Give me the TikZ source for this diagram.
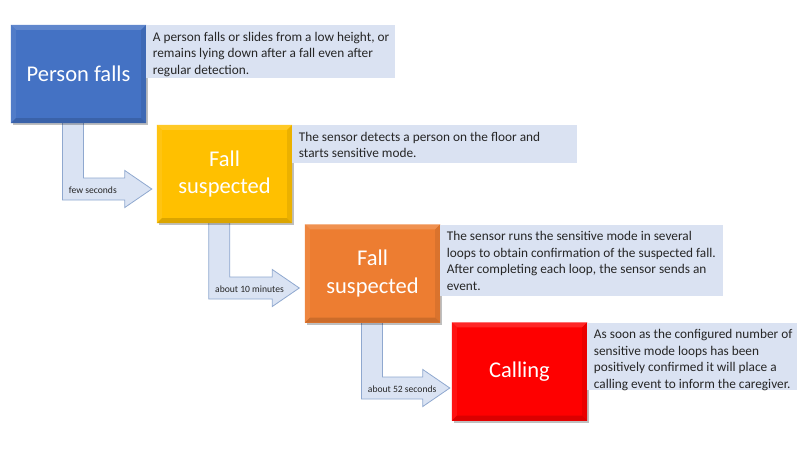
\documentclass[tikz,border=0pt]{standalone}
\usepackage{fontspec}
\setmainfont{Carlito}
\usetikzlibrary{shadows,calc}
\pgfdeclarelayer{bg}
\pgfsetlayers{bg,main}
\definecolor{pblue}{HTML}{4472C4}
\definecolor{pyellow}{HTML}{FFC000}
\definecolor{porange}{HTML}{ED7D31}
\definecolor{pred}{HTML}{FE0000}
\definecolor{descfill}{HTML}{DAE2F2}
\definecolor{arrfill}{HTML}{DAE3F3}
\definecolor{arrdraw}{HTML}{8FA8CF}
\definecolor{desctext}{HTML}{262626}
\tikzset{
 stepbox/.style={fill=#1, minimum width=135pt, minimum height=98pt, inner sep=0pt, text=white, align=center, font=\fontsize{22.5}{27.5}\selectfont, drop shadow={shadow xshift=2pt, shadow yshift=-2pt, opacity=.25, fill=black}},
 descbox/.style={fill=descfill, anchor=north west, inner sep=0pt},
 desctxt/.style={anchor=north west, inner sep=0pt, align=left, text=desctext, font=\fontsize{13.3}{16.5}\selectfont},
 bent/.style={fill=arrfill, draw=arrdraw, line width=0.8pt, line join=miter},
 lbl/.style={anchor=west, inner sep=0pt, font=\fontsize{9.6}{11}\selectfont, text=desctext},
}
\newcommand\bentarrow[7]{%
 \path[bent] let \p1=(#1.south west), \p2=(#2.west) in
 (\x1+#3pt, \y1+3pt) -- (\x1+#3pt+21pt, \y1+3pt) -- (\x1+#3pt+21pt, \y2-#4pt+11pt)
 -- (\x2-#5pt-27pt, \y2-#4pt+11pt) -- (\x2-#5pt-27pt, \y2-#4pt+18.5pt) -- (\x2-#5pt, \y2-#4pt)
 -- (\x2-#5pt-27pt, \y2-#4pt-18.5pt) -- (\x2-#5pt-27pt, \y2-#4pt-11pt) -- (\x1+#3pt, \y2-#4pt-11pt) -- cycle
 node[lbl] (#7) at (\x1+#3pt+6pt, \y2-#4pt-1pt) {#6};
}
\begin{document}
\begin{tikzpicture}[x=1pt,y=-1pt]
\useasboundingbox (0,0) rectangle (800,450);
\node[stepbox=pblue] (p1) at (78.5,74) {Person falls};
\node[stepbox=pyellow] (p2) at (224.5,174) {Fall\\suspected};
\node[stepbox=porange] (p3) at (372.5,273.5) {Fall\\suspected};
\node[stepbox=pred] (p4) at (519.5,371.5) {Calling};
\foreach \n/\c in {p1/pblue,p2/pyellow,p3/porange,p4/pred}{
 \fill[\c!85!white] (\n.north west) -- (\n.north east) -- ([shift={(-5pt,-5pt)}]\n.north east) -- ([shift={(5pt,-5pt)}]\n.north west) -- cycle;
 \fill[\c!93!white] (\n.north west) -- ([shift={(5pt,-5pt)}]\n.north west) -- ([shift={(5pt,5pt)}]\n.south west) -- (\n.south west) -- cycle;
 \fill[\c!92!black] (\n.north east) -- ([shift={(-5pt,-5pt)}]\n.north east) -- ([shift={(-5pt,5pt)}]\n.south east) -- (\n.south east) -- cycle;
 \fill[\c!86!black] (\n.south west) -- ([shift={(5pt,5pt)}]\n.south west) -- ([shift={(-5pt,5pt)}]\n.south east) -- (\n.south east) -- cycle;
}
\node[descbox, minimum width=249pt, minimum height=53pt] (t1) at (p1.north east) {};
\node[desctxt] (t1txt) at ([shift={(6.5pt,-7pt)}]t1.north west) {A person falls or slides from a low height, or\\remains lying down after a fall even after\\regular detection.};
\node[descbox, minimum width=285pt, minimum height=38pt] (t2) at (p2.north east) {};
\node[desctxt] (t2txt) at ([shift={(6.5pt,-7pt)}]t2.north west) {The sensor detects a person on the floor and\\starts sensitive mode.};
\node[descbox, minimum width=283pt, minimum height=71pt] (t3) at (p3.north east) {};
\node[desctxt] (t3txt) at ([shift={(6.5pt,-7pt)}]t3.north west) {The sensor runs the sensitive mode in several\\loops to obtain confirmation of the suspected fall.\\After completing each loop, the sensor sends an\\event.};
\node[descbox, minimum width=210pt, minimum height=67pt] (t4) at (p4.north east) {};
\node[desctxt] (t4txt) at ([shift={(6.5pt,-7pt)}]t4.north west) {As soon as the configured number of\\sensitive mode loops has been\\positively confirmed it will place a\\calling event to inform the caregiver.};
\begin{pgfonlayer}{bg}
\bentarrow{p1}{p2}{51.7}{15}{5}{few seconds}{l1}
\bentarrow{p2}{p3}{52}{14.5}{5.5}{about 10 minutes}{l2}
\bentarrow{p3}{p4}{56.7}{16.5}{2}{about 52 seconds}{l3}
\end{pgfonlayer}
\end{tikzpicture}
\end{document}
